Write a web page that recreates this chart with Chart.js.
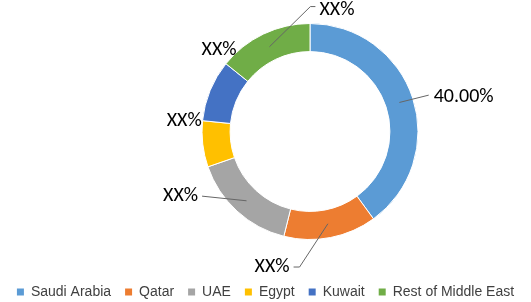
<!DOCTYPE html>
<html>
<head>
<meta charset="utf-8">
<script src="https://cdn.jsdelivr.net/npm/chart.js@4.4.1/dist/chart.umd.min.js"></script>
<style>
  html, body { margin: 0; padding: 0; background: #fff; }
  #wrap { width: 531px; height: 302px; }
</style>
</head>
<body>
<div id="wrap"><canvas id="shareChart" width="531" height="302"></canvas></div>
<script>
const regions = ['Saudi Arabia', 'Qatar', 'UAE', 'Egypt', 'Kuwait', 'Rest of Middle East'];
const shares = [40, 13.9, 15.8, 6.9, 9.2, 14.2];
const shareLabels = ['40.00%', 'XX%', 'XX%', 'XX%', 'XX%', 'XX%'];
const colors = ['#5B9BD5', '#ED7D31', '#A5A5A5', '#FFC000', '#4472C4', '#70AD47'];

// where each label sits, relative to the outer middle of its slice
const labelPlace = [
    { line: [[16, -3]], text: [21, -1], align: 'left' },
    { line: [[-31, 29.5], [-37, 29.5]], text: [-41, 29.5], align: 'right' },
    { line: [[-35, -15]], text: [-39, -15], align: 'right' },
    { line: [], text: [-1, -23], align: 'right' },
    { line: [], text: [9, -40], align: 'center' },
    { line: [[47, -27.5], [52, -27.5]], text: [56, -24], align: 'left' }
];

// move the ring to the spot it has in the picture
const placeRing = {
    id: 'placeRing',
    afterLayout(chart) {
        const a = chart.chartArea;
        const dx = 310 - (a.left + a.right) / 2;
        const dy = 131.5 - (a.top + a.bottom) / 2;
        a.left += dx; a.right += dx;
        a.top += dy; a.bottom += dy;
    }
};

const sliceLabels = {
    id: 'sliceLabels',
    afterDatasetsDraw(chart) {
        const ctx = chart.ctx;
        const arcs = chart.getDatasetMeta(0).data;
        ctx.save();
        ctx.font = '20px Carlito, Calibri, "Liberation Sans", Arial, sans-serif';
        ctx.textBaseline = 'middle';
        arcs.forEach((arc, i) => {
            const p = labelPlace[i];
            const mid = (arc.startAngle + arc.endAngle) / 2;
            const ox = arc.x + Math.cos(mid) * arc.outerRadius;
            const oy = arc.y + Math.sin(mid) * arc.outerRadius;
            if (p.line.length) {
                const r = (arc.innerRadius + arc.outerRadius) / 2;
                ctx.beginPath();
                ctx.moveTo(arc.x + Math.cos(mid) * r, arc.y + Math.sin(mid) * r);
                p.line.forEach(pt => ctx.lineTo(ox + pt[0], oy + pt[1]));
                ctx.strokeStyle = '#666';
                ctx.lineWidth = 1;
                ctx.stroke();
            }
            ctx.fillStyle = '#000';
            ctx.textAlign = p.align;
            ctx.fillText(shareLabels[i], ox + p.text[0], oy + p.text[1]);
        });
        ctx.restore();
    }
};

const chart = new Chart(document.getElementById('shareChart'), {
    type: 'doughnut',
    data: {
        labels: regions,
        datasets: [{
            data: shares,
            backgroundColor: colors,
            borderColor: '#fff',
            borderWidth: 1
        }]
    },
    options: {
        responsive: false,
        animation: false,
        radius: 108,
        cutout: '74%',
        plugins: {
            tooltip: { enabled: false },
            legend: {
                position: 'bottom',
                maxHeight: 31,
                labels: {
                    boxWidth: 7,
                    boxHeight: 7,
                    padding: 14,
                    color: '#404040',
                    font: { size: 14, family: '"Liberation Sans", Arial, sans-serif' },
                    generateLabels(c) {
                        return Chart.overrides.doughnut.plugins.legend.labels.generateLabels(c)
                            .map(l => Object.assign(l, { lineWidth: 0 }));
                    }
                }
            }
        }
    },
    plugins: [placeRing, sliceLabels]
});
</script>
</body>
</html>
